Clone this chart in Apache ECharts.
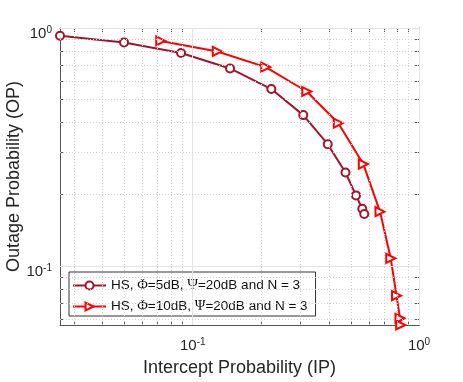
<!DOCTYPE html>
<html>
<head>
<meta charset="utf-8">
<script src="https://cdn.jsdelivr.net/npm/echarts@6/dist/echarts.min.js"></script>
<style>
  html, body { margin: 0; padding: 0; background: #fff; }
  #main { width: 463px; height: 382px; }
</style>
</head>
<body>
<div id="main"></div>
<script>
// data (IP on x, OP on y)
const seriesNames = ['HS, Φ=5dB, Ψ=20dB and N = 3', 'HS, Φ=10dB, Ψ=20dB and N = 3']
const ipPhi5 = [0.0259, 0.0497, 0.0888, 0.1462, 0.2225, 0.308, 0.395, 0.4733, 0.5266, 0.5615, 0.573]
const opPhi5 = [0.928, 0.870, 0.785, 0.676, 0.554, 0.4305, 0.325, 0.247, 0.198, 0.174, 0.1655]
const ipPhi10 = [0.0722, 0.1284, 0.2102, 0.3191, 0.4399, 0.5674, 0.6725, 0.750, 0.7956, 0.824, 0.830]
const opPhi10 = [0.882, 0.797, 0.685, 0.541, 0.398, 0.268, 0.1692, 0.1077, 0.0750, 0.0603, 0.0565]

// axis ranges and tick values
const xRange = [0.0259, 1]
const yRange = [0.0565, 1]
const xMajor = [0.1, 1]
const yMajor = [0.1, 1]
const xMinor = [0.03, 0.04, 0.05, 0.06, 0.07, 0.08, 0.09, 0.2, 0.3, 0.4, 0.5, 0.6, 0.7, 0.8, 0.9]
const yMinor = [0.06, 0.07, 0.08, 0.09, 0.2, 0.3, 0.4, 0.5, 0.6, 0.7, 0.8, 0.9]

const FONT = 'Liberation Sans'
const AXIS_COLOR = '#555555'
const TEXT_COLOR = '#262626'

let chart = echarts.init(document.getElementById('main'), null, { renderer: 'canvas' })

function toPairs(xs, ys) {
  return xs.map((x, i) => [x, ys[i]])
}

// labels as 10^n
function decadeLabel(v) {
  let e = Math.round(Math.log10(v))
  return '{b|10}{s|' + e + '}'
}

function logAxis(position, range, major, minor, main) {
  return {
    type: 'log',
    logBase: 10,
    position: position,
    min: range[0],
    max: range[1],
    gridIndex: 0,
    axisLine: { show: true, onZero: false, lineStyle: { color: AXIS_COLOR, width: 1 } },
    axisTick: { show: true, inside: true, length: 4, customValues: major.concat(minor), lineStyle: { color: AXIS_COLOR } },
    minorTick: { show: false },
    splitLine: { show: false },
    minorSplitLine: { show: false },
    axisLabel: {
      show: main,
      customValues: major,
      margin: 12,
      formatter: decadeLabel,
      rich: {
        b: { fontFamily: FONT, fontSize: 15, color: TEXT_COLOR, lineHeight: 18, verticalAlign: 'middle' },
        s: { fontFamily: FONT, fontSize: 10, color: TEXT_COLOR, lineHeight: 8, verticalAlign: 'top' }
      }
    }
  }
}

let xMain = logAxis('bottom', xRange, xMajor, xMinor, true)
xMain.name = 'Intercept Probability (IP)'
xMain.nameLocation = 'middle'
xMain.nameGap = 34
xMain.nameMoveOverlap = false
xMain.nameTextStyle = { fontFamily: FONT, fontSize: 18, color: TEXT_COLOR }

let yMain = logAxis('left', yRange, yMajor, yMinor, true)
yMain.axisLabel.margin = 8
yMain.axisLabel.padding = [12, 0, 0, 0]
yMain.name = 'Outage Probability (OP)'
yMain.nameLocation = 'middle'
yMain.nameGap = 37
yMain.nameMoveOverlap = false
yMain.nameTextStyle = { fontFamily: FONT, fontSize: 18, color: TEXT_COLOR }

// grid lines: solid at decades, dotted in between
let gridLines = []
xMajor.forEach(v => gridLines.push({ xAxis: v, lineStyle: { color: '#e3e3e3', type: 'solid' } }))
yMajor.forEach(v => gridLines.push({ yAxis: v, lineStyle: { color: '#e3e3e3', type: 'solid' } }))
xMinor.forEach(v => gridLines.push({ xAxis: v, lineStyle: { color: '#d0d0d0', type: [1, 2] } }))
yMinor.forEach(v => gridLines.push({ yAxis: v, lineStyle: { color: '#d0d0d0', type: [1, 2] } }))

chart.setOption({
  animation: false,
  backgroundColor: '#fff',
  grid: { left: 60, right: 44, top: 28, bottom: 57, containLabel: false, outerBoundsMode: 'none' },
  xAxis: [xMain, logAxis('top', xRange, xMajor, xMinor, false)],
  yAxis: [yMain, logAxis('right', yRange, yMajor, yMinor, false)],
  legend: {
    orient: 'vertical',
    left: 69,
    top: 272,
    padding: [6, 8, 2, 3],
    itemGap: 6,
    itemWidth: 33,
    itemHeight: 10,
    backgroundColor: '#fff',
    borderColor: '#333',
    borderWidth: 1,
    borderRadius: 0,
    data: seriesNames,
    formatter: name => name.replace(/([ΦΨ])/g, '{g|$1}'),
    textStyle: {
      fontFamily: FONT,
      fontSize: 13.5,
      color: '#111',
      rich: {
        g: { fontFamily: 'Liberation Serif', fontSize: 14.5, color: '#111' }
      }
    }
  },
  series: [
    {
      // holds the grid lines only, drawn under the curves
      name: 'grid',
      type: 'line',
      data: [],
      z: 1,
      silent: true,
      markLine: {
        silent: true,
        symbol: 'none',
        label: { show: false },
        lineStyle: { width: 1 },
        data: gridLines
      }
    },
    {
      name: seriesNames[0],
      type: 'line',
      z: 3,
      clip: false,
      data: toPairs(ipPhi5, opPhi5),
      symbol: 'emptyCircle',
      symbolSize: 8,
      color: '#A2142F',
      lineStyle: { width: 2, color: '#A2142F' },
      itemStyle: { color: '#A2142F', borderWidth: 1.5 }
    },
    {
      name: seriesNames[1],
      type: 'line',
      z: 3,
      clip: false,
      data: toPairs(ipPhi10, opPhi10),
      symbol: 'emptyTriangle',
      symbolRotate: -90,
      symbolSize: 9,
      color: '#FF0000',
      lineStyle: { width: 2, color: '#FF0000' },
      itemStyle: { color: '#FF0000', borderWidth: 1.5 }
    }
  ]
})
</script>
</body>
</html>
